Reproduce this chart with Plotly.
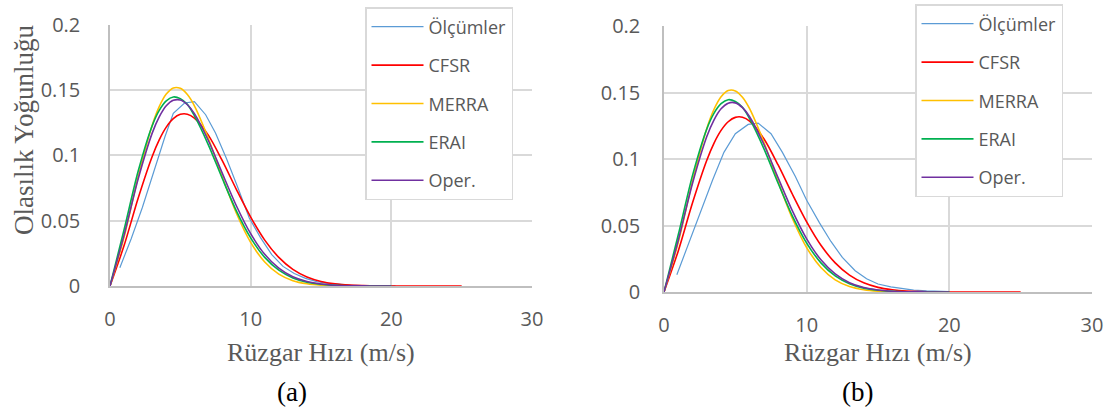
import plotly.graph_objects as go

# ---------------- data ----------------
names = ["Ölçümler", "CFSR", "MERRA", "ERAI", "Oper."]
colors = ["#5B9BD5", "#FF0000", "#FFC000", "#00B050", "#7030A0"]

speed = [0, 1, 2, 3, 3.5, 4, 4.5, 5, 5.5, 6, 7, 8, 9, 10, 11, 12, 13, 14, 15, 16, 17,
         18, 19, 20]
speed_cfsr = [0, 1, 2, 3, 3.5, 4, 4.5, 5, 5.5, 6, 7, 8, 9, 10, 11, 12, 13, 14, 15, 16,
              17, 18, 19, 20, 21, 22, 23, 24, 25]

cfsr = [0, 0.0309, 0.0671, 0.0991, 0.1118, 0.1215, 0.1280, 0.1313, 0.1314, 0.1284,
        0.1152, 0.0955, 0.0735, 0.0527, 0.0351, 0.0219, 0.0127, 0.0069, 0.0035, 0.0017,
        0.0007, 0.0003, 0.0001, 0.0000, 0, 0, 0, 0, 0]
merra = [0, 0.0374, 0.0835, 0.1230, 0.1372, 0.1468, 0.1515, 0.1512, 0.1464, 0.1378,
         0.1126, 0.0829, 0.0553, 0.0334, 0.0184, 0.0091, 0.0041, 0.0017, 0.0006, 0.0002,
         0.0001, 0.0000, 0, 0]
erai = [0, 0.0430, 0.0877, 0.1226, 0.1343, 0.1416, 0.1446, 0.1433, 0.1389, 0.1303,
        0.1078, 0.0818, 0.0571, 0.0368, 0.0219, 0.0121, 0.0062, 0.0029, 0.0013, 0.0005,
        0.0002, 0.0001, 0.0000, 0]
oper = [0, 0.0389, 0.0818, 0.1169, 0.1293, 0.1378, 0.1420, 0.1422, 0.1386, 0.1318,
        0.1111, 0.0858, 0.0610, 0.0400, 0.0242, 0.0136, 0.0070, 0.0034, 0.0015, 0.0006,
        0.0002, 0.0001, 0.0000, 0]

# measured (panel a)
obs_a_x = [0.7, 1.5, 2.3, 3.1, 3.9, 4.5, 5.3, 6.0, 6.8, 7.5, 8.3, 9.1, 9.9, 10.7,
           11.5, 12.3, 13.1, 13.9, 14.7, 15.5, 16.3, 17.1, 17.9, 18.7, 19.5, 20.3]
obs_a_y = [0.014, 0.036, 0.060, 0.087, 0.114, 0.132, 0.140, 0.141, 0.131, 0.117, 0.097,
           0.075, 0.052, 0.037, 0.024, 0.015, 0.0095, 0.0058, 0.0034, 0.002, 0.0012,
           0.0007, 0.0004, 0.0002, 0.0001, 0.0001]
# measured (panel b)
obs_b_x = [0.9, 1.7, 2.6, 3.4, 4.2, 5.0, 5.9, 6.6, 7.5, 8.3, 9.2, 10.0, 10.9, 11.7,
           12.5, 13.4, 14.2, 15.0, 15.9, 16.7, 17.5, 18.4, 19.2, 20.0]
obs_b_y = [0.013, 0.036, 0.061, 0.084, 0.105, 0.119, 0.126, 0.127, 0.119, 0.105, 0.087,
           0.069, 0.052, 0.038, 0.026, 0.016, 0.010, 0.006, 0.0038, 0.0024, 0.0014,
           0.0008, 0.0005, 0.0003]

x_ticks = [0, 10, 20, 30]
y_ticks = [0, 0.05, 0.1, 0.15, 0.2]
x_title = "Rüzgar Hızı (m/s)"
y_title = "Olasılık Yoğunluğu"
panel_labels = ["(a)", "(b)"]

# ---------------- figure ----------------
W, H = 1115, 412
fig = go.Figure()

panels = [
    dict(xa="x", ya="y", leg="legend", ox=obs_a_x, oy=obs_a_y, tag="a"),
    dict(xa="x2", ya="y2", leg="legend2", ox=obs_b_x, oy=obs_b_y, tag="b"),
]
for p in panels:
    series = [
        (p["ox"], p["oy"], "linear", 1.2),
        (speed_cfsr, cfsr, "spline", 1.6),
        (speed, merra, "spline", 1.6),
        (speed, erai, "spline", 1.6),
        (speed, oper, "spline", 1.6),
    ]
    for i, (xs, ys, shape, w) in enumerate(series):
        fig.add_trace(go.Scatter(
            x=xs, y=ys, mode="lines", name=names[i],
            line=dict(color=colors[i], width=w, shape=shape, smoothing=0.8),
            xaxis=p["xa"], yaxis=p["ya"], legend=p["leg"],
            legendgroup=p["tag"] + str(i), hoverinfo="skip",
        ))

tick_font = dict(family="Open Sans", size=20, color="#595959")
grid = "#D9D9D9"
axline = "#BFBFBF"


def xax(domain, anchor):
    return dict(domain=domain, anchor=anchor, range=[0, 30], tickvals=x_ticks,
                showgrid=True, gridcolor=grid, gridwidth=1.5, zeroline=False,
                showline=True, linecolor=axline, linewidth=1.5, automargin=False,
                ticks="outside", ticklen=14, tickcolor="rgba(0,0,0,0)",
                tickfont=tick_font, fixedrange=True)


def yax(domain, anchor, tl):
    return dict(domain=domain, anchor=anchor, range=[0, 0.2], tickvals=y_ticks,
                showgrid=True, gridcolor=grid, gridwidth=1.5, zeroline=False,
                showline=True, linecolor=axline, linewidth=1.5, automargin=False,
                ticks="outside", ticklen=tl, tickcolor="rgba(0,0,0,0)",
                tickfont=tick_font, fixedrange=True)


def leg(x, y):
    return dict(x=x / W, y=1 - y / H, xanchor="left", yanchor="top",
                bgcolor="white", bordercolor="#D9D9D9", borderwidth=1.5,
                font=dict(family="Open Sans", size=18, color="#595959"),
                tracegroupgap=12, itemwidth=52)


fig.update_layout(
    width=W, height=H, margin=dict(l=0, r=0, t=0, b=0, autoexpand=False),
    paper_bgcolor="white", plot_bgcolor="white", showlegend=True,
    xaxis=xax([110 / W, 532 / W], "y"),
    yaxis=yax([1 - 286 / H, 1 - 24.5 / H], "x", 24),
    xaxis2=xax([664 / W, 1092 / W], "y2"),
    yaxis2=yax([1 - 292 / H, 1 - 26 / H], "x2", 18),
    legend=leg(365, 7),
    legend2=leg(915, 4),
)

serif = dict(family="Liberation Serif", size=26, color="#595959")
ann = [
    dict(text=x_title, x=321 / W, y=1 - 352 / H, font=serif),
    dict(text=x_title, x=878 / W, y=1 - 352 / H, font=serif),
    dict(text=y_title, x=24 / W, y=1 - 130 / H, textangle=-90,
         font=dict(family="Liberation Serif", size=27, color="#595959")),
    dict(text=panel_labels[0], x=292 / W, y=1 - 392 / H,
         font=dict(family="Liberation Serif", size=27, color="black")),
    dict(text=panel_labels[1], x=857 / W, y=1 - 392 / H,
         font=dict(family="Liberation Serif", size=27, color="black")),
]
for a in ann:
    fig.add_annotation(xref="paper", yref="paper", xanchor="center", yanchor="middle",
                       showarrow=False, **a)

fig.write_html("out.html")
